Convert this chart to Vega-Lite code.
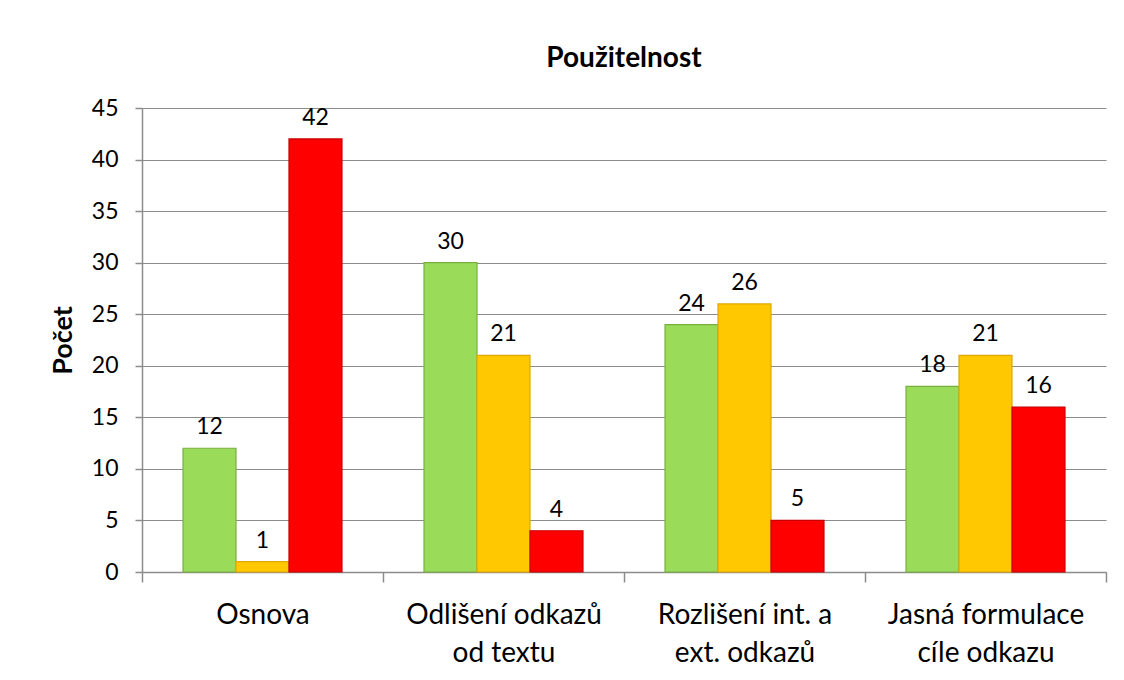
{
  "$schema": "https://vega.github.io/schema/vega-lite/v6.json",
  "autosize": "none",
  "width": 964,
  "height": 464,
  "padding": {"left": 142, "top": 108, "right": 18, "bottom": 108},
  "background": "white",
  "title": {"text": "Použitelnost", "fontSize": 28, "font": "Lato", "fontWeight": "bold", "color": "black", "anchor": "middle", "offset": 24},
  "data": {"values": [
    {"kategorie": "Osnova", "serie": "Řada 1", "pocet": 12},
    {"kategorie": "Osnova", "serie": "Řada 2", "pocet": 1},
    {"kategorie": "Osnova", "serie": "Řada 3", "pocet": 42},
    {"kategorie": "Odlišení odkazů od textu", "serie": "Řada 1", "pocet": 30},
    {"kategorie": "Odlišení odkazů od textu", "serie": "Řada 2", "pocet": 21},
    {"kategorie": "Odlišení odkazů od textu", "serie": "Řada 3", "pocet": 4},
    {"kategorie": "Rozlišení int. a ext. odkazů", "serie": "Řada 1", "pocet": 24},
    {"kategorie": "Rozlišení int. a ext. odkazů", "serie": "Řada 2", "pocet": 26},
    {"kategorie": "Rozlišení int. a ext. odkazů", "serie": "Řada 3", "pocet": 5},
    {"kategorie": "Jasná formulace cíle odkazu", "serie": "Řada 1", "pocet": 18},
    {"kategorie": "Jasná formulace cíle odkazu", "serie": "Řada 2", "pocet": 21},
    {"kategorie": "Jasná formulace cíle odkazu", "serie": "Řada 3", "pocet": 16}
  ]},
  "encoding": {
    "x": {
      "field": "kategorie", "type": "nominal", "sort": null,
      "scale": {"paddingInner": 0, "paddingOuter": 0},
      "axis": {
        "title": null, "labelAngle": 0, "labelFontSize": 28, "labelFont": "Lato", "labelColor": "black",
        "labelLineHeight": 38, "labelPadding": 19, "labelBaseline": "top", "labelLimit": 400,
        "tickBand": "extent", "tickSize": 10, "tickColor": "#8c8c8c", "domainColor": "#8c8c8c", "tickWidth": 1.5, "domainWidth": 1.5,
        "labelExpr": "datum.label == 'Odlišení odkazů od textu' ? ['Odlišení odkazů', 'od textu'] : datum.label == 'Rozlišení int. a ext. odkazů' ? ['Rozlišení int. a', 'ext. odkazů'] : datum.label == 'Jasná formulace cíle odkazu' ? ['Jasná formulace', 'cíle odkazu'] : datum.label"
      }
    },
    "xOffset": {"field": "serie", "type": "nominal", "scale": {"paddingInner": 0, "paddingOuter": 0.774}},
    "y": {
      "field": "pocet", "type": "quantitative",
      "scale": {"domain": [0, 45], "nice": false},
      "axis": {
        "title": "Počet", "titleFontSize": 27, "titleFont": "Lato", "titleFontWeight": "bold", "titleColor": "black", "titlePadding": 14,
        "values": [0, 5, 10, 15, 20, 25, 30, 35, 40, 45],
        "labelFontSize": 23, "labelFont": "Lato", "labelColor": "black", "labelPadding": 17,
        "tickSize": 7, "tickColor": "#8c8c8c", "domainColor": "#8c8c8c", "tickWidth": 1.5, "domainWidth": 1.5,
        "gridColor": "#8c8c8c", "gridWidth": 1.2
      }
    }
  },
  "layer": [
    {
      "mark": {"type": "bar", "strokeWidth": 1.2},
      "encoding": {
        "color": {"field": "serie", "type": "nominal", "legend": null,
          "scale": {"domain": ["Řada 1", "Řada 2", "Řada 3"], "range": ["#9BDB5A", "#FFC800", "#FF0000"]}},
        "stroke": {"field": "serie", "type": "nominal", "legend": null,
          "scale": {"domain": ["Řada 1", "Řada 2", "Řada 3"], "range": ["#78B040", "#E0A800", "#C80000"]}}
      }
    },
    {
      "mark": {"type": "text", "dy": -21, "fontSize": 23, "font": "Lato", "color": "black"},
      "encoding": {"text": {"field": "pocet", "type": "quantitative"}}
    }
  ],
  "config": {"view": {"stroke": null}}
}
